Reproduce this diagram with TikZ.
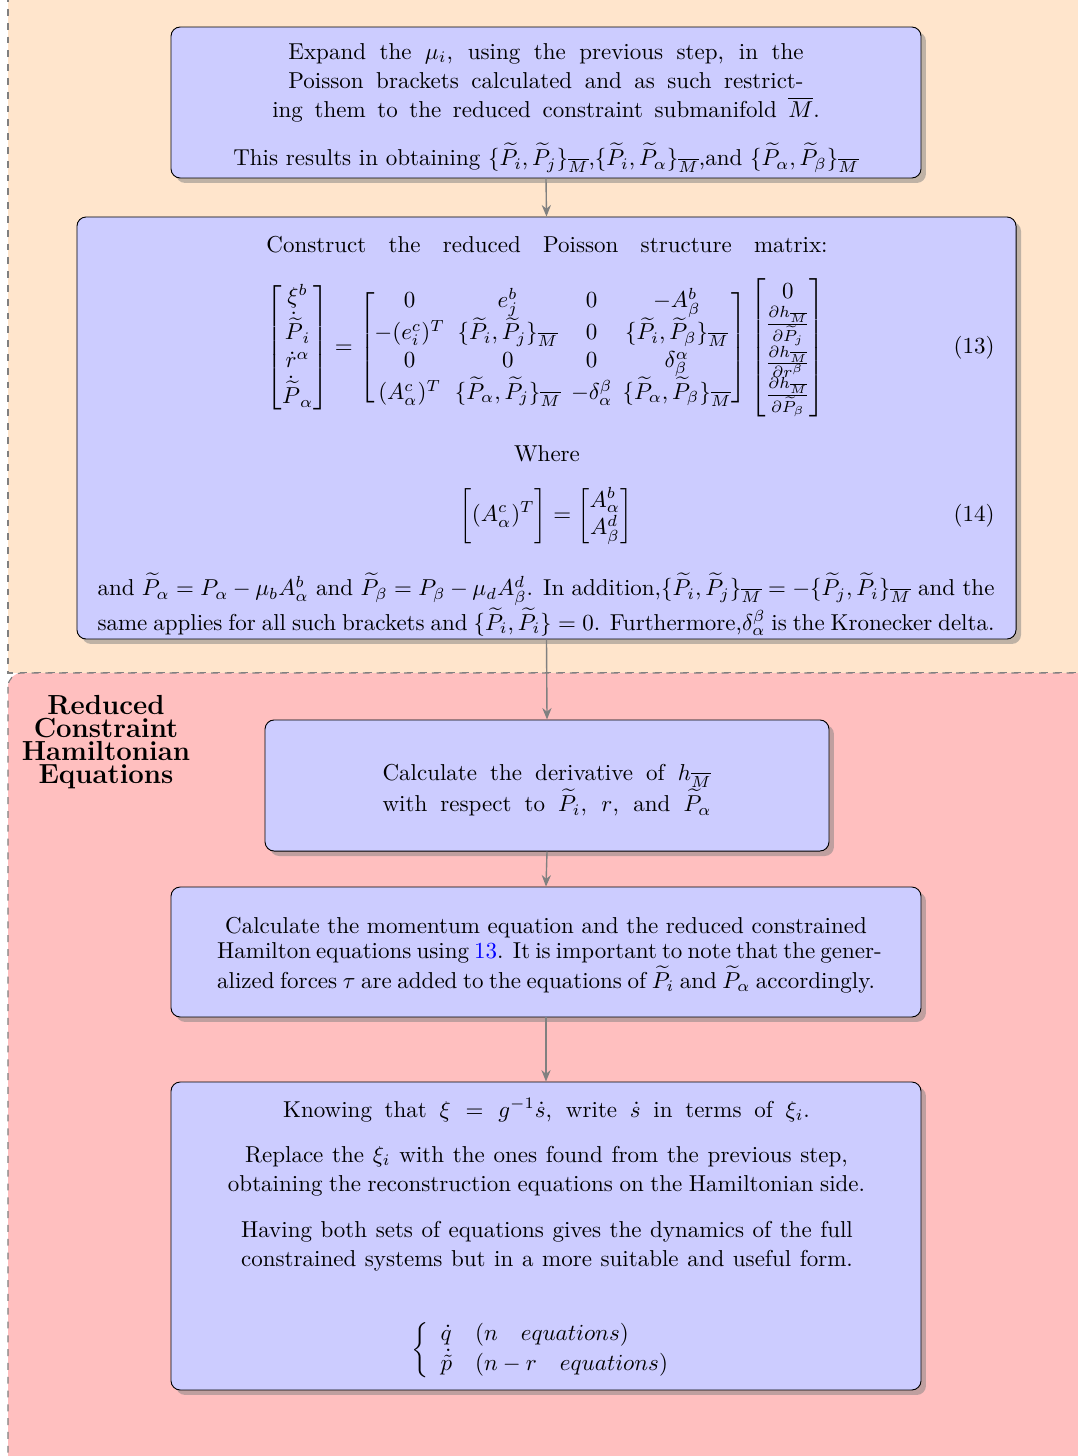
\documentclass[tikz,border=0pt]{standalone}
\usepackage{amsmath}
\usetikzlibrary{shadows,arrows.meta}
\begin{document}
\begin{tikzpicture}[x=0.4348pt,y=-0.4348pt]
\tikzset{
 stepbox/.style={draw=black, fill=blue!20, rounded corners=4pt, drop shadow, inner sep=0pt},
 txt/.style={inner sep=0pt, align=center},
 ptxt/.style={txt, font=\fontsize{10}{12.7}\selectfont},
 arr/.style={draw=gray, line width=0.6pt, -{Stealth[length=5pt,width=4pt]}},
 region/.style={draw=gray, dashed, line width=0.5pt}
}
\useasboundingbox (0,0) rectangle (1078,1456);
\begin{scope}
\clip (0,0) rectangle (1078,1456);
\draw[region, fill=orange!20] (8,-60) rectangle (1160,673);
\draw[region, fill=red!25, rounded corners=6pt] (8,673) rectangle (1160,1560);
\end{scope}

% boxes
\node[stepbox, minimum width=326.1pt, minimum height=65.65pt] (b1) at (546,102.5) {};
\node[stepbox, minimum width=408.3pt, minimum height=183.5pt] (b2) at (546.5,428) {};
\node[stepbox, minimum width=245.2pt, minimum height=57pt] (b3) at (547,785.5) {};
\node[stepbox, minimum width=326.1pt, minimum height=56.5pt] (b4) at (546,952) {};
\node[stepbox, minimum width=326.1pt, minimum height=133.9pt] (b5) at (546,1236) {};

% connectors
\draw[arr] (b1.south) -- (b2.north);
\draw[arr] (b2.south) -- (b3.north);
\draw[arr] (b3.south) -- (b4.north);
\draw[arr] (b4.south) -- (b5.north);

% label
\node[txt, font=\fontsize{12}{10.1}\selectfont\bfseries] (lab) at (106,742)
 {Reduced\\Constraint\\Hamiltonian\\Equations};

% box 1 text
\node[ptxt] (t1a) at (546,83) {%
 \makebox[224pt][s]{Expand the $\mu_i$, using the previous step, in the}\\
 \makebox[224pt][s]{Poisson brackets calculated and as such restrict-}\\
 \makebox[238pt][s]{ing them to the reduced constraint submanifold $\overline{M}$.}};
\node[txt] (t1b) at (546,158) {This results in obtaining $\{\widetilde P_i,\widetilde P_j\}_{\overline M}$,$\{\widetilde P_i,\widetilde P_\alpha\}_{\overline M}$,and $\{\widetilde P_\alpha,\widetilde P_\beta\}_{\overline M}$};

% box 2 text
\node[txt] (t2a) at (547,245) {\makebox[244pt][s]{Construct the reduced Poisson structure matrix:}};
\node[txt] (eq13) at (546,348) {\setlength{\arraycolsep}{2.2pt}$\displaystyle
\begin{bmatrix}\xi^b\\ \dot{\widetilde{P}}_i\\ \dot r^\alpha\\ \dot{\widetilde P}_\alpha\end{bmatrix}
=
\begin{bmatrix}
0 & e^b_j & 0 & -A^b_\beta\\
-(e^c_i)^T & \{\widetilde P_i,\widetilde P_j\}_{\overline M} & 0 & \{\widetilde P_i,\widetilde P_\beta\}_{\overline M}\\
0&0&0&\delta^\alpha_\beta\\
(A^c_\alpha)^T & \{\widetilde P_\alpha,\widetilde P_j\}_{\overline M} & -\delta^\beta_\alpha & \{\widetilde P_\alpha,\widetilde P_\beta\}_{\overline M}
\end{bmatrix}
\begin{bmatrix}0\\ \frac{\partial h_{\overline M}}{\partial \widetilde P_j}\\ \frac{\partial h_{\overline M}}{\partial r^\beta}\\ \frac{\partial h_{\overline M}}{\partial\widetilde P_\beta}\end{bmatrix}$};
\node[txt, anchor=east] (n13) at (995,348) {(13)};
\node[txt] (where) at (547,454) {Where};
\node[txt] (eq14) at (546,516) {$\displaystyle \biggl[(A^c_\alpha)^T\biggr]=\begin{bmatrix}A^b_\alpha\\ A^d_\beta\end{bmatrix}$};
\node[txt, anchor=east] (n14) at (995,516) {(14)};
\node[txt] (t2b) at (546,604.5) {%
 \makebox[390pt][s]{and $\widetilde P_\alpha = P_\alpha - \mu_b A^b_\alpha$ and $\widetilde P_\beta = P_\beta - \mu_d A^d_\beta$. In addition,$\{\widetilde P_i,\widetilde P_j\}_{\overline M} = -\{\widetilde P_j,\widetilde P_i\}_{\overline M}$ and the}\\
 \makebox[390pt][s]{same applies for all such brackets and $\{\widetilde P_i,\widetilde P_i\} = 0$. Furthermore,$\delta^\beta_\alpha$ is the Kronecker delta.}};

% box 3 text
\node[txt] (t3) at (547,790) {%
 \makebox[143pt][s]{Calculate the derivative of $h_{\overline M}$}\\
 \makebox[143pt][s]{with respect to $\widetilde P_i$, $r$, and $\widetilde P_\alpha$}};

% box 4 text
\node[txt, font=\fontsize{10}{11.1}\selectfont] (t4) at (546,955) {%
 Calculate the momentum equation and the reduced constrained\\
 \makebox[286pt][s]{Hamilton equations using {\color{blue}13}. It is important to note that the gener-}\\
 \makebox[286pt][s]{alized forces $\tau$ are added to the equations of $\widetilde P_i$ and $\widetilde P_\alpha$ accordingly.}};

% box 5 text
\node[txt] (t5a) at (546.5,1110) {\makebox[229pt][s]{Knowing that $\xi = g^{-1}\dot s$, write $\dot s$ in terms of $\xi_i$.}};
\node[ptxt] (t5b) at (546.5,1171) {%
 \makebox[262pt][s]{Replace the $\xi_i$ with the ones found from the previous step,}\\
 \makebox[277pt][s]{obtaining the reconstruction equations on the Hamiltonian side.}};
\node[ptxt] (t5c) at (547,1246) {%
 \makebox[266pt][s]{Having both sets of equations gives the dynamics of the full}\\
 \makebox[266pt][s]{constrained systems but in a more suitable and useful form.}};
\node[txt] (t5d) at (547,1350) {$\left\{\begin{array}{ll}\dot q & (n \quad equations)\\ \dot{\tilde p} & (n-r\quad equations)\end{array}\right.$};
\end{tikzpicture}
\end{document}
